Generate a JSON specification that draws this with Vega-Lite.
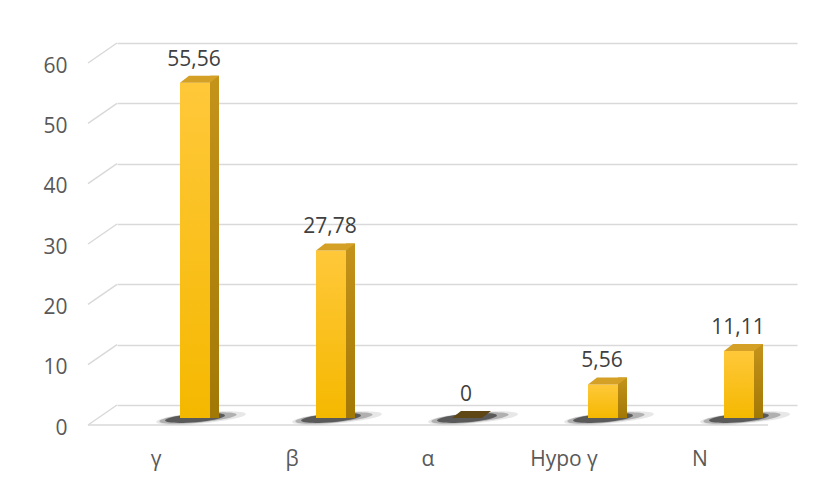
{
  "$schema": "https://vega.github.io/schema/vega-lite/v6.json",
  "width": 680,
  "height": 362,
  "autosize": {"type": "none"},
  "padding": {"left": 117, "top": 43, "right": 33, "bottom": 80},
  "background": "white",
  "config": {
    "locale": {"number": {"decimal": ",", "thousands": ".", "grouping": [3], "currency": ["", " €"]}},
    "view": {"stroke": null},
    "font": "Open Sans"
  },
  "datasets": {
    "shares": [
      {"type": "γ", "pct": 55.56},
      {"type": "β", "pct": 27.78},
      {"type": "α", "pct": 0},
      {"type": "Hypo γ", "pct": 5.56},
      {"type": "N", "pct": 11.11}
    ],
    "ticks": [{"t": 0}, {"t": 10}, {"t": 20}, {"t": 30}, {"t": 40}, {"t": 50}, {"t": 60}]
  },
  "data": {"name": "shares"},
  "encoding": {
    "x": {
      "field": "type", "type": "nominal", "sort": null,
      "scale": {"paddingInner": 0, "paddingOuter": 0},
      "axis": {
        "title": null, "domain": false, "ticks": false, "grid": false,
        "labelAngle": 0, "labelPadding": 54, "labelOffset": -29, "labelBaseline": "middle",
        "labelFont": "Open Sans", "labelFontSize": 21, "labelColor": "#595959"
      }
    },
    "y": {
      "field": "pct", "type": "quantitative",
      "scale": {"domain": [0, 60], "nice": false},
      "axis": {
        "title": null, "values": [0, 10, 20, 30, 40, 50, 60], "domain": false, "ticks": false,
        "labelPadding": 50, "labelOffset": 23,
        "labelFont": "Open Sans", "labelFontSize": 21, "labelColor": "#595959",
        "grid": true, "gridColor": "#d9d9d9", "gridWidth": 1.5
      }
    }
  },
  "layer": [
    {
      "description": "front edge of the floor",
      "data": {"name": "ticks"},
      "transform": [{"filter": "datum.t == 0"}],
      "mark": {"type": "rule", "color": "#d9d9d9", "strokeWidth": 1.5, "yOffset": 20},
      "encoding": {
        "y": {"field": "t", "type": "quantitative"},
        "x": {"value": -29},
        "x2": {"value": 651}
      }
    },
    {
      "description": "receding gridline stubs toward the back wall",
      "data": {"name": "ticks"},
      "mark": {"type": "rule", "color": "#d9d9d9", "strokeWidth": 1.5, "y2Offset": 20},
      "encoding": {
        "y": {"field": "t", "type": "quantitative"},
        "y2": {"field": "t"},
        "x": {"value": 0},
        "x2": {"value": -29}
      }
    },
    {
      "mark": {"type": "point", "shape": "M-1,0A1,0.12 0 1,0 1,0A1,0.12 0 1,0 -1,0Z", "filled": true, "size": 8100, "color": "#3a3a3a", "opacity": 0.12, "xOffset": 16, "yOffset": 13, "angle": -5},
      "encoding": {"y": {"datum": 0, "type": "quantitative"}}
    },
    {
      "mark": {"type": "point", "shape": "M-1,0A1,0.12 0 1,0 1,0A1,0.12 0 1,0 -1,0Z", "filled": true, "size": 6000, "color": "#333333", "opacity": 0.3, "xOffset": 13, "yOffset": 13, "angle": -5},
      "encoding": {"y": {"datum": 0, "type": "quantitative"}}
    },
    {
      "mark": {"type": "point", "shape": "M-1,0A1,0.14 0 1,0 1,0A1,0.14 0 1,0 -1,0Z", "filled": true, "size": 3600, "color": "#222222", "opacity": 0.6, "xOffset": 10, "yOffset": 13, "angle": -5},
      "encoding": {"y": {"datum": 0, "type": "quantitative"}}
    },
    {
      "description": "right-hand side faces of the columns",
      "mark": {
        "type": "bar", "width": 9, "xOffset": 29.5, "yOffset": 6, "y2Offset": 13,
        "color": {"gradient": "linear", "x1": 0, "y1": 0, "x2": 0, "y2": 1, "stops": [{"offset": 0, "color": "#c4931a"}, {"offset": 1, "color": "#a27805"}]}
      },
      "encoding": {
        "y2": {"datum": 0},
        "opacity": {"condition": {"test": "datum.pct == 0", "value": 0}, "value": 1}
      }
    },
    {
      "description": "front faces of the columns",
      "mark": {
        "type": "bar", "width": 30, "xOffset": 10, "yOffset": 13, "y2Offset": 13,
        "color": {"gradient": "linear", "x1": 0, "y1": 0, "x2": 0, "y2": 1, "stops": [{"offset": 0, "color": "#ffc83a"}, {"offset": 1, "color": "#f5b800"}]}
      },
      "encoding": {"y2": {"datum": 0}}
    },
    {
      "description": "top faces of the columns",
      "mark": {"type": "point", "shape": "M-0.75,0L0.75,0L1.2,-0.35L-0.3,-0.35Z", "filled": true, "size": 1600, "xOffset": 10, "yOffset": 13, "opacity": 1, "strokeWidth": 0},
      "encoding": {
        "color": {"condition": {"test": "datum.pct == 0", "value": "#5e4714"}, "value": "#d4a026"}
      }
    },
    {
      "mark": {"type": "text", "xOffset": 9, "yOffset": -10, "baseline": "middle", "align": "center", "font": "Open Sans", "fontSize": 21, "color": "#404040"},
      "encoding": {
        "text": {"field": "pct", "type": "quantitative", "format": ".2~f"}
      }
    }
  ]
}
